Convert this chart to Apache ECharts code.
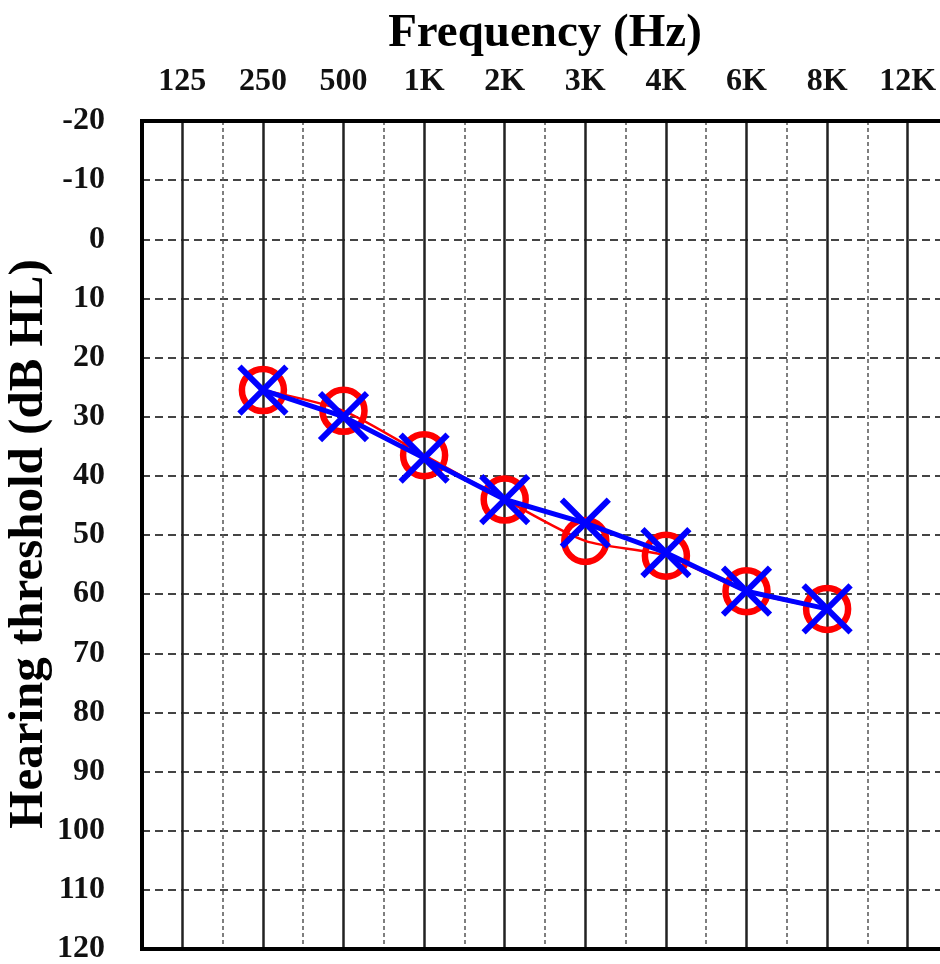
<!DOCTYPE html>
<html>
<head>
<meta charset="utf-8">
<script src="https://cdn.jsdelivr.net/npm/echarts@6/dist/echarts.min.js"></script>
<style>
html,body{margin:0;padding:0;background:#fff;}
#chart{width:940px;height:964px;}
</style>
</head>
<body>
<div id="chart"></div>
<script>
var frequencies = ['125', '250', '500', '1K', '2K', '3K', '4K', '6K', '8K', '12K'];
var rightEar = [null, 25.5, 29, 36.5, 44, 51, 53.5, 59.5, 62.5, null];
var leftEar = [null, 25.5, 30, 37, 44, 48, 53, 59.5, 62.5, null];
var yTicks = { min: -20, max: 120, step: 10 };

var FONT = '"Liberation Serif", "Times New Roman", serif';
var chart = echarts.init(document.getElementById('chart'), null, { renderer: 'canvas' });

var xPath = 'path://M0,0L10,10M10,0L0,10';
var halfSteps = frequencies.length * 2;

chart.setOption({
  backgroundColor: '#fff',
  animation: false,
  grid: {
    left: 142, top: 121, width: 806, height: 828,
    show: true, borderColor: '#000', borderWidth: 4, backgroundColor: 'transparent',
    containLabel: false,
    outerBoundsMode: 'none',
    z: 10
  },
  xAxis: [
    {
      type: 'category',
      data: frequencies,
      position: 'top',
      boundaryGap: true,
      name: 'Frequency (Hz)',
      nameLocation: 'middle',
      nameGap: 64,
      nameTextStyle: { fontFamily: FONT, fontWeight: 'bold', fontSize: 47, color: '#000' },
      axisLine: { show: false },
      axisTick: { show: false },
      axisLabel: {
        show: true, margin: 23, interval: 0,
        fontFamily: FONT, fontWeight: 'bold', fontSize: 32, color: '#111'
      },
      splitLine: { show: true, showMinLine: false, lineStyle: { color: '#555', width: 1.5, type: [4, 3] } },
      z: 2
    },
    {
      type: 'value',
      position: 'bottom',
      min: 0, max: halfSteps, interval: 1,
      axisLine: { show: false },
      axisTick: { show: false },
      axisLabel: { show: false },
      splitLine: {
        show: true, showMinLine: true, showMaxLine: true,
        lineStyle: { color: ['rgba(0,0,0,0)', '#222'], width: 2.5, type: 'solid' }
      },
      z: 3
    }
  ],
  yAxis: {
    type: 'value',
    inverse: true,
    min: yTicks.min, max: yTicks.max, interval: yTicks.step,
    name: 'Hearing threshold (dB HL)',
    nameLocation: 'middle',
    nameGap: 88,
    nameMoveOverlap: false,
    nameRotate: 90,
    nameTextStyle: { fontFamily: FONT, fontWeight: 'bold', fontSize: 49, color: '#000', padding: [0, 18, 0, 0] },
    axisLine: { show: true, lineStyle: { color: '#000', width: 4 } },
    axisTick: { show: false },
    axisLabel: {
      margin: 37, fontFamily: FONT, fontWeight: 'bold', fontSize: 32, color: '#111'
    },
    splitLine: { show: true, lineStyle: { color: '#444', width: 2, type: [8, 5] } }
  },
  series: [
    {
      name: 'Right',
      type: 'line',
      xAxisIndex: 0,
      data: rightEar,
      smooth: 0.25,
      connectNulls: false,
      symbol: 'circle',
      symbolSize: 42,
      lineStyle: { color: '#ff0000', width: 2.5 },
      itemStyle: { color: 'rgba(0,0,0,0)', borderColor: '#ff0000', borderWidth: 6.5 },
      z: 5
    },
    {
      name: 'Left',
      type: 'line',
      xAxisIndex: 0,
      data: leftEar,
      symbol: xPath,
      symbolSize: 47,
      lineStyle: { color: '#0000ff', width: 5 },
      itemStyle: { color: 'rgba(0,0,0,0)', borderColor: '#0000ff', borderWidth: 6 },
      z: 6
    }
  ]
});
</script>
</body>
</html>
